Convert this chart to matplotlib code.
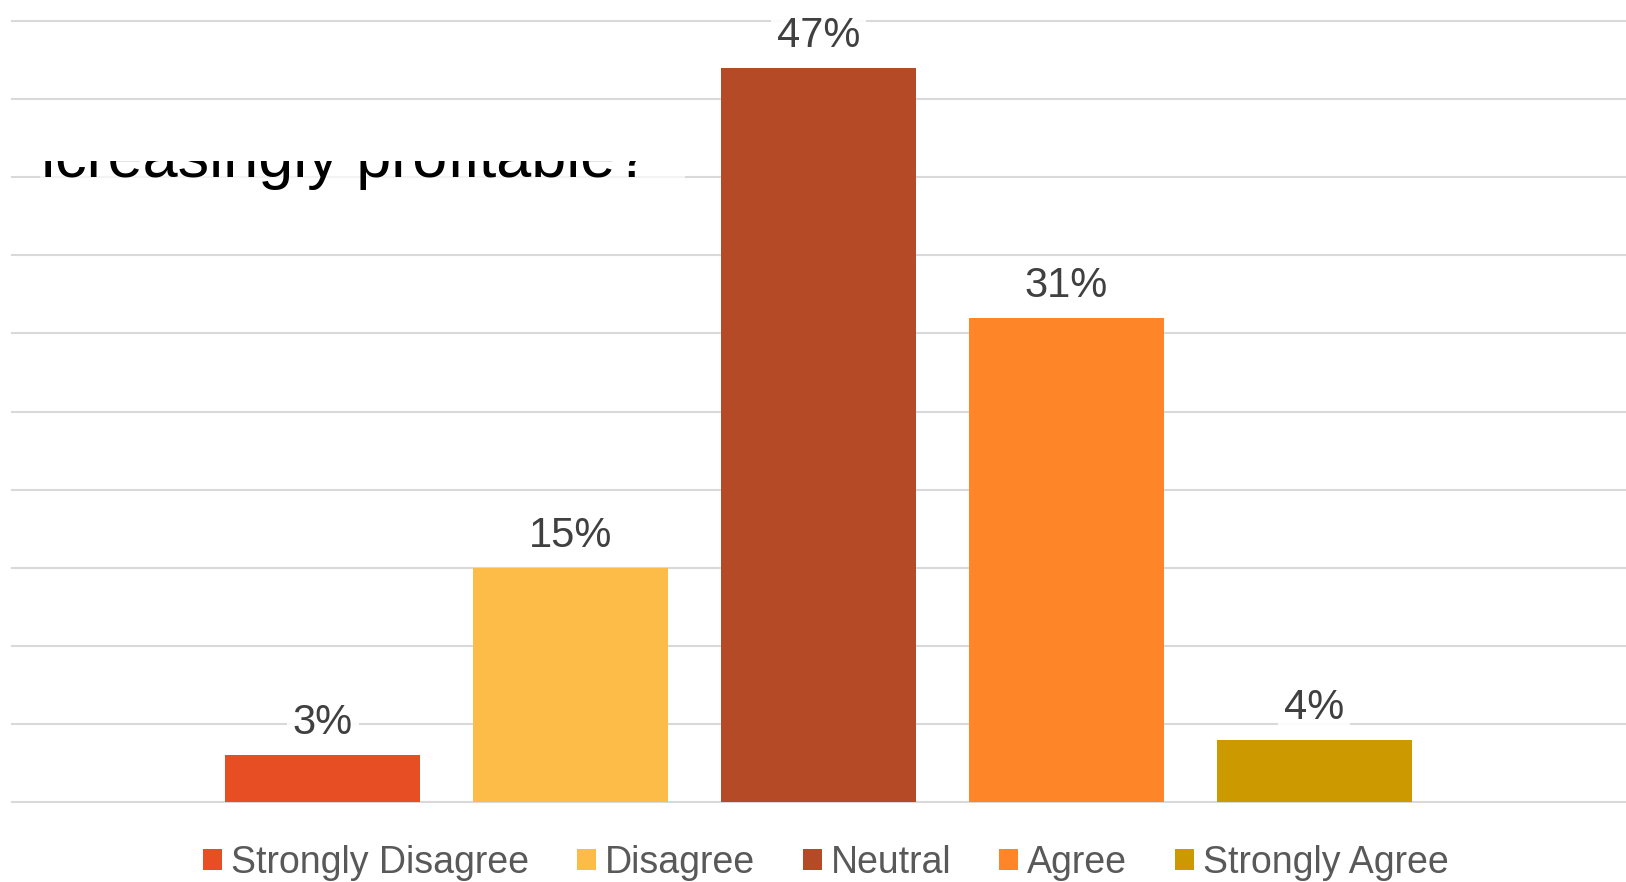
import matplotlib.pyplot as plt
from matplotlib.patches import Rectangle
from matplotlib.transforms import Bbox, TransformedBbox
from matplotlib.textpath import TextPath
from matplotlib.font_manager import FontProperties

plt.rcParams['font.family'] = ['Liberation Sans', 'DejaVu Sans']

answers = ['Strongly Disagree', 'Disagree', 'Neutral', 'Agree', 'Strongly Agree']
shares = [3, 15, 47, 31, 4]
colors = ['#E84E23', '#FDBB48', '#B54A26', '#FF8628', '#CC9900']

W, H = 1626, 882
fig = plt.figure(figsize=(W / 100, H / 100), dpi=100)

# plot area in pixels: left 12, top 21, bottom 802
ax = fig.add_axes([12 / W, (H - 802) / H, 1 - 12 / W, (802 - 21) / H])

bars = []
for i, (name, val, c) in enumerate(zip(answers, shares, colors)):
    b = ax.bar(i, val, width=0.787, color=c, label=name, zorder=2)
    bars.append(b[0])
    ax.annotate('%d%%' % val, (i, val), xytext=(0, 15), textcoords='offset points',
                ha='center', va='baseline', fontsize=30, color='#404040', zorder=3,
                bbox=dict(boxstyle='square,pad=0.15', fc='white', ec='none', alpha=0.9))

ax.set_xlim(-1.255, 5.259)
ax.set_ylim(0, 50)
ax.set_yticks(range(0, 55, 5))
ax.grid(axis='y', color='#D9D9D9', linewidth=1.5)
for gl in ax.get_ygridlines():
    gl.set_clip_on(False)
ax.set_axisbelow(True)
ax.tick_params(length=0, labelleft=False, labelbottom=False)
for s in ax.spines.values():
    s.set_visible(False)

fig.legend(bars, answers, loc='center', bbox_to_anchor=(826 / W, 1 - 863 / H),
           ncol=5, frameon=False, fontsize=27, handlelength=0.5, handleheight=0.5,
           handletextpad=0.24, columnspacing=1.28, labelcolor='#595959', borderpad=0)

# leftover title box, partly scrolled out of view
title_size = 45.4
box = Rectangle((40 / W, 1 - 215 / H), (685 - 40) / W, (215 - 161) / H,
                transform=fig.transFigure, fc='white', ec='none', alpha=0.7, zorder=1)
fig.add_artist(box)
# line the right stem of the 'n' up with the box edge
ext = TextPath((0, 0), 'in', size=title_size * 100 / 72,
               prop=FontProperties(family='Liberation Sans')).get_extents()
x0 = 47 - ext.width
title = fig.text(x0 / W, 1 - 177 / H, 'increasingly profitable?', ha='left',
                 va='baseline', fontsize=title_size, color='black', zorder=3)
title.set_clip_box(TransformedBbox(Bbox.from_extents(40.5 / W, 1 - 215 / H, 700 / W, 1 - 161 / H),
                                   fig.transFigure))

fig.savefig('out.png', dpi=100)
